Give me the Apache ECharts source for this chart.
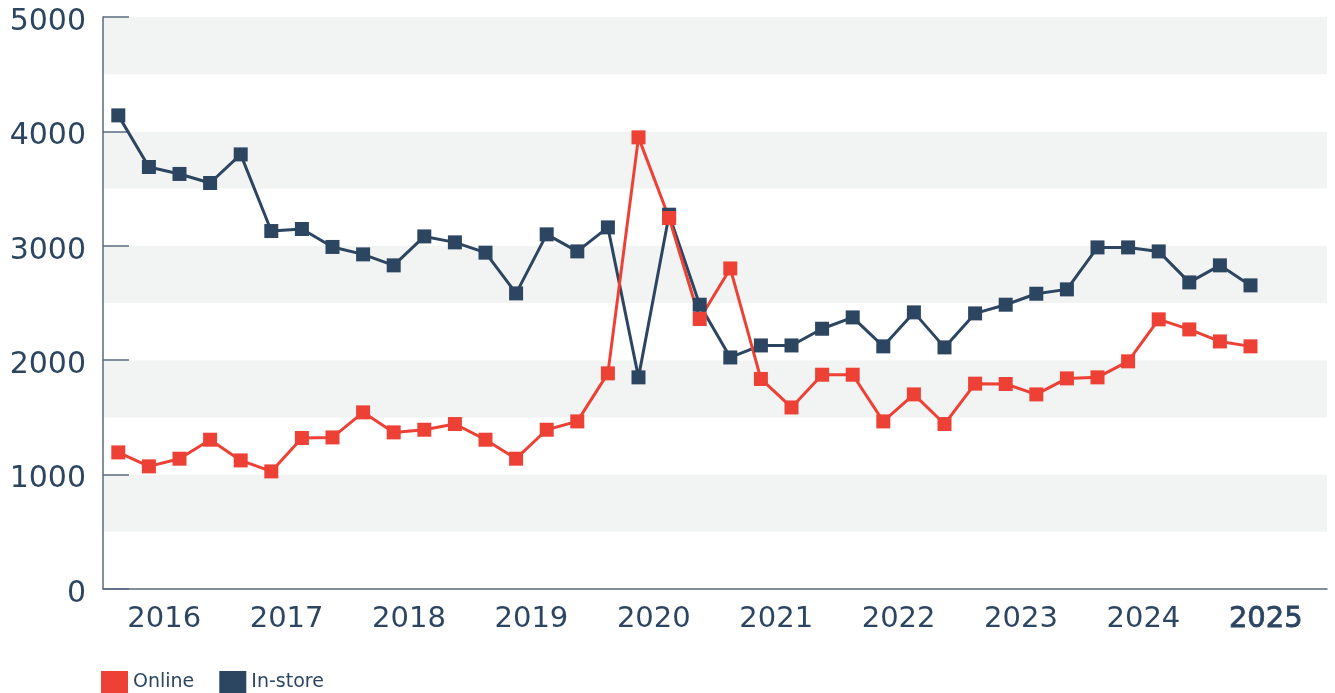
<!DOCTYPE html>
<html>
<head>
<meta charset="utf-8">
<title>Online vs In-store</title>
<script src="https://cdn.jsdelivr.net/npm/echarts@6/dist/echarts.min.js"></script>
<style>
	html, body { margin: 0; padding: 0; background: #fff; }
	#chart { width: 1335px; height: 693px; }
</style>
</head>
<body>
<div id="chart"></div>
<script>
// year labels along the bottom (4 quarters per year)
const years = ['2016', '2017', '2018', '2019', '2020', '2021', '2022', '2023', '2024', '2025']
const yTicks = [0, 1000, 2000, 3000, 4000, 5000]

// quarterly values, 2016 Q1 onwards
const online = [
	1194, 1072, 1139, 1305, 1124, 1028, 1320, 1325,
	1544, 1369, 1392, 1442, 1305, 1139, 1392, 1465,
	1885, 3948, 3243, 2360, 2802, 1836, 1587, 1873,
	1873, 1465, 1701, 1442, 1795, 1792, 1701, 1841,
	1850, 1990, 2357, 2269, 2164, 2121
]
const inStore = [
	4140, 3689, 3628, 3549, 3799, 3129, 3147, 2990,
	2925, 2829, 3082, 3030, 2940, 2584, 3100, 2951,
	3161, 1850, 3272, 2485, 2024, 2129, 2129, 2275,
	2374, 2121, 2418, 2112, 2409, 2485, 2581, 2619,
	2986, 2986, 2951, 2680, 2829, 2654
]

const RED = '#ee4136'
const NAVY = '#2c4561'
const AXIS = '#5b6b80'
const FONT = 'DejaVu Sans'

const toPoints = arr => arr.map((v, i) => [i + 0.5, v])

const chart = echarts.init(document.getElementById('chart'))
chart.setOption({
	animation: false,
	grid: { left: 103, right: 8, top: 17, bottom: 104, containLabel: false, outerBoundsMode: 'none' },
	legend: {
		left: 101,
		top: 671,
		padding: 0,
		itemWidth: 27,
		itemHeight: 22,
		itemGap: 25,
		icon: 'rect',
		data: ['Online', 'In-store'],
		textStyle: { color: NAVY, fontFamily: FONT, fontSize: 19, padding: [6, 0, 0, 0] }
	},
	xAxis: [
		{
			// hidden numeric axis that places the quarterly points
			type: 'value',
			min: 0,
			max: years.length * 4,
			show: false
		},
		{
			type: 'category',
			data: years,
			boundaryGap: true,
			position: 'bottom',
			axisLine: { lineStyle: { color: AXIS, width: 1.5 } },
			axisTick: { inside: true, length: 13, interval: 0, lineStyle: { color: AXIS, width: 1.5 } },
			axisLabel: {
				interval: 0,
				color: NAVY,
				fontFamily: FONT,
				fontSize: 29,
				margin: 16,
				formatter: v => v === '2025' ? '{b|' + v + '}' : v,
				rich: { b: { color: NAVY, fontFamily: FONT, fontSize: 29, textBorderColor: NAVY, textBorderWidth: 0.8 } }
			},
			splitLine: { show: false }
		}
	],
	yAxis: [
		{
			// banded background every 500
			type: 'value',
			min: 0,
			max: 5000,
			interval: 500,
			axisLine: { show: false },
			axisTick: { show: false },
			axisLabel: { show: false },
			splitLine: { show: false },
			splitArea: { show: true, areaStyle: { color: ['#ffffff', '#f2f4f3'] } }
		},
		{
			type: 'value',
			min: yTicks[0],
			max: yTicks[yTicks.length - 1],
			interval: 1000,
			position: 'left',
			axisLine: { show: true, lineStyle: { color: AXIS, width: 1.5 } },
			axisTick: { show: true, inside: true, length: 26, lineStyle: { color: AXIS, width: 1.5 } },
			axisLabel: {
				color: NAVY,
				fontFamily: FONT,
				fontSize: 30,
				margin: 17,
				formatter: v => '{n|' + v + '}',
				rich: { n: { color: NAVY, fontFamily: FONT, fontSize: 30, padding: [10, 0, 0, 0] } }
			},
			splitLine: { show: false }
		}
	],
	series: [
		{
			name: 'In-store',
			type: 'line',
			xAxisIndex: 0,
			yAxisIndex: 1,
			data: toPoints(inStore),
			symbol: 'rect',
			symbolSize: 14,
			itemStyle: { color: NAVY },
			lineStyle: { color: NAVY, width: 3 }
		},
		{
			name: 'Online',
			type: 'line',
			xAxisIndex: 0,
			yAxisIndex: 1,
			data: toPoints(online),
			symbol: 'rect',
			symbolSize: 14,
			itemStyle: { color: RED },
			lineStyle: { color: RED, width: 3 }
		}
	]
})
</script>
</body>
</html>
